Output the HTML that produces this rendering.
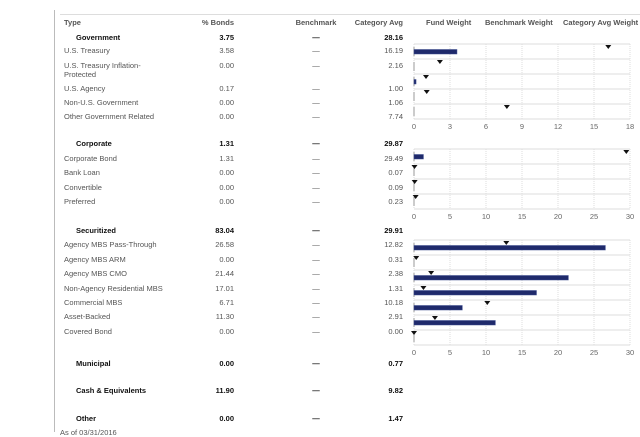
<!DOCTYPE html>
<html><head><meta charset="utf-8">
<style>
body{margin:0;width:640px;height:432px;background:#fff;overflow:hidden;position:relative;font-family:"Liberation Sans","DejaVu Sans",sans-serif;font-size:7.5px;color:#555}
.t{position:absolute;white-space:nowrap;line-height:9px}
.b{font-weight:bold;color:#111}
.h{font-weight:bold;color:#555}
svg{position:absolute;left:0;top:0}
</style></head>
<body>
<div style="position:absolute;left:54px;top:10px;width:1px;height:422px;background:#bbb"></div>
<div style="position:absolute;left:60px;top:14px;width:580px;height:1px;background:#ddd"></div>
<div id="tbl"></div>
<svg id="chart" width="640" height="432"></svg>
<script>
const rowNames=["Type","Government","U.S. Treasury","U.S. Treasury Inflation-|Protected","U.S. Agency","Non-U.S. Government","Other Government Related","Corporate","Corporate Bond","Bank Loan","Convertible","Preferred","Securitized","Agency MBS Pass-Through","Agency MBS ARM","Agency MBS CMO","Non-Agency Residential MBS","Commercial MBS","Asset-Backed","Covered Bond","Municipal","Cash & Equivalents","Other"];
const rowBonds=["% Bonds","3.75","3.58","0.00","0.17","0.00","0.00","1.31","1.31","0.00","0.00","0.00","83.04","26.58","0.00","21.44","17.01","6.71","11.30","0.00","0.00","11.90","0.00"];
const rowCat=["Category Avg","28.16","16.19","2.16","1.00","1.06","7.74","29.87","29.49","0.07","0.09","0.23","29.91","12.82","0.31","2.38","1.31","10.18","2.91","0.00","0.77","9.82","1.47"];
const rowKind=["h","b","n","n","n","n","n","b","n","n","n","n","b","n","n","n","n","n","n","n","b","b","b"];
const rowY=[18,33,46,61,84,98,112,139,154,168,183,197,226,240,255,269,284,298,312,327,359,386,414];

const g1Fund=[3.58,0.00,0.17,0.00,0.00];
const g1Cat=[16.19,2.16,1.00,1.06,7.74];
const g1Ticks=[0,3,6,9,12,15,18];
const g2Fund=[1.31,0.00,0.00,0.00];
const g2Cat=[29.49,0.07,0.09,0.23];
const g2Ticks=[0,5,10,15,20,25,30];
const g3Fund=[26.58,0.00,21.44,17.01,6.71,11.30,0.00];
const g3Cat=[12.82,0.31,2.38,1.31,10.18,2.91,0.00];
const g3Ticks=[0,5,10,15,20,25,30];

const tbl=document.getElementById('tbl');
function addText(txt,x,y,cls,align,name){
  const d=document.createElement('div');
  d.className='t '+(cls||'');
  
  
  d.innerHTML=txt;
  d.style.top=y+'px';
  if(align==='r'){d.style.right=(640-x)+'px';}
  else if(align==='c'){d.style.left=(x-30)+'px';d.style.width='60px';d.style.textAlign='center';}
  else d.style.left=x+'px';
  tbl.appendChild(d);
}
rowNames.forEach((n,i)=>{
  const k=rowKind[i];
  const cls=k==='h'?'h':(k==='b'?'b':'');
  const nx=k==='b'?76:64;
  addText(n.replace('|','<br>'),nx,rowY[i],cls,'l','row-label');
  addText(rowBonds[i],234,rowY[i],cls,'r','bonds-value');
  addText(i===0?'Benchmark':'—',316,rowY[i],cls,'c','benchmark-value');
  addText(rowCat[i],403,rowY[i],cls,'r','category-avg-value');
});
addText('Fund Weight',426,18,'h','l','fund-weight-header');
addText('Benchmark Weight',485,18,'h','l','benchmark-weight-header');
addText('Category Avg Weight',563,18,'h','l','category-weight-header');
addText('As of 03/31/2016',60,428,'','l','as-of-date');

const svg=document.getElementById('chart');
const NS='http://www.w3.org/2000/svg';
function el(tag,attrs){const e=document.createElementNS(NS,tag);for(const k in attrs)e.setAttribute(k,attrs[k]);svg.appendChild(e);return e;}
function chart(fund,cat,ticks,top,id){
  const x0=414,x1=630,max=ticks[ticks.length-1],rh=15;
  const xs=v=>x0+(x1-x0)*v/max;
  const bottom=top+rh*fund.length;
  ticks.forEach(t=>{
    const gl=el('line',{x1:xs(t),x2:xs(t),y1:top,y2:bottom,stroke:'#ddd','stroke-dasharray':'1,1'});
    
    
    const tx=el('text',{x:xs(t),y:bottom+10,'text-anchor':'middle','font-size':'7.5','fill':'#666','font-family':'Liberation Sans, sans-serif'});
    tx.textContent=t;
    
    
  });
  for(let i=0;i<=fund.length;i++){
    const l=el('line',{x1:x0,x2:x1,y1:top+i*rh,y2:top+i*rh,stroke:'#ddd'});
    
    
  }
  fund.forEach((v,i)=>{
    const y=top+i*rh;
    const tk=el('line',{x1:x0,x2:x0,y1:y+3,y2:y+12,stroke:'#999'});
    
    
    if(v>0){
      const r=el('rect',{x:x0,y:y+5.5,width:xs(v)-x0,height:4.5,fill:'#1f2a6b',stroke:'#3b4a8e','stroke-width':'0.5'});
      
      
    }
    const cx=xs(cat[i]);
    const m=el('path',{d:`M${cx-3},${y+1}L${cx+3},${y+1}L${cx},${y+5}Z`,fill:'#111'});
    
    
  });
}
chart(g1Fund,g1Cat,g1Ticks,44,'government');
chart(g2Fund,g2Cat,g2Ticks,149,'corporate');
chart(g3Fund,g3Cat,g3Ticks,240,'securitized');
</script>
</body></html>
